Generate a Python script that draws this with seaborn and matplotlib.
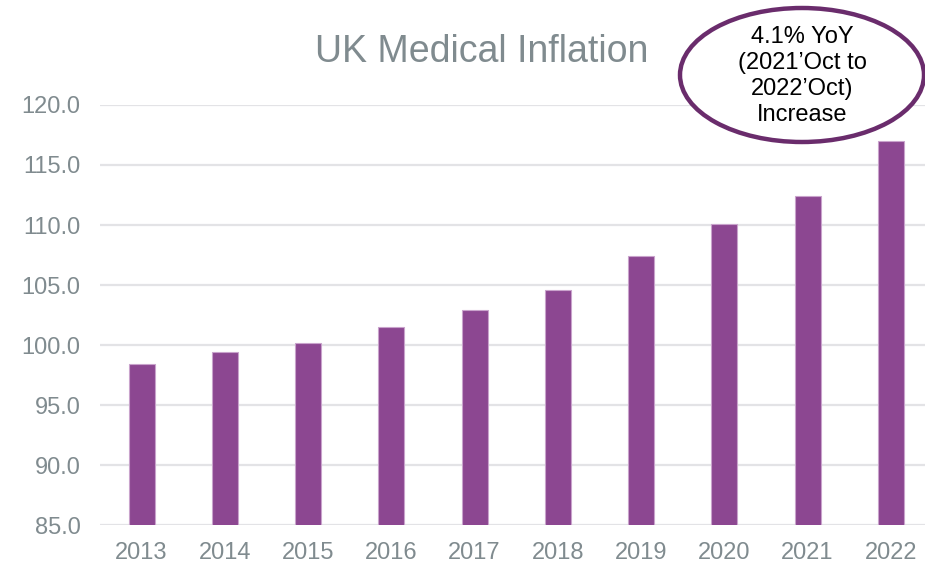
import pandas as pd
import matplotlib.pyplot as plt
import seaborn as sns
from matplotlib.patches import Ellipse

sns.set_theme(style="white")
plt.rcParams['font.family'] = ['Liberation Sans', 'DejaVu Sans']

# values
years = ['2013', '2014', '2015', '2016', '2017', '2018', '2019', '2020', '2021', '2022']
index_values = [98.4, 99.4, 100.2, 101.5, 102.9, 104.6, 107.4, 110.1, 112.4, 117.0]
y_ticks = [85, 90, 95, 100, 105, 110, 115, 120]

BAR_COLOR = '#8c4791'
TEXT_GREY = '#808b8f'
GRID_GREY = '#e3e3e6'
RING_COLOR = '#6a2c6c'


def plot_medical_inflation():
    df = pd.DataFrame({'Year': years, 'Index': index_values})

    fig = plt.figure(figsize=(9.25, 5.66), dpi=100)
    ax = fig.add_axes([0.1081, 0.0724, 0.8919, 0.7421])

    sns.barplot(data=df, x='Year', y='Index', color=BAR_COLOR, saturation=1,
                width=0.31, edgecolor='#c9a3cc', linewidth=0.8, ax=ax, zorder=3)

    ax.set_ylim(85, 120)
    ax.set_xlim(-0.5, 9.41)
    ax.set_yticks(y_ticks)
    ax.set_yticklabels([f"{t:.1f}" for t in y_ticks])
    ax.yaxis.grid(True, color=GRID_GREY, linewidth=1.6, zorder=0)
    ax.set_axisbelow(True)
    for s in ax.spines.values():
        s.set_visible(False)
    ax.tick_params(axis='both', length=0, labelsize=17, colors=TEXT_GREY)
    ax.tick_params(axis='y', pad=14)
    ax.tick_params(axis='x', pad=12)
    ax.set_xlabel('')
    ax.set_ylabel('')

    fig.text(0.521, 1 - 52 / 566, 'UK Medical Inflation', ha='center', va='center',
             fontsize=27, color=TEXT_GREY)

    # callout ellipse
    ring = Ellipse((802 / 925, 1 - 75 / 566), 244 / 925, 134 / 566,
                   transform=fig.transFigure, facecolor='white',
                   edgecolor=RING_COLOR, linewidth=3.2, zorder=10)
    fig.patches.append(ring)
    fig.text(802 / 925, 1 - 76 / 566,
             "4.1% YoY\n(2021\u2019Oct to\n2022\u2019Oct)\nIncrease",
             ha='center', va='center', fontsize=17, color='black',
             linespacing=1.25, zorder=11)

    fig.savefig('out.png', dpi=100)
    plt.close(fig)


if __name__ == "__main__":
    plot_medical_inflation()
